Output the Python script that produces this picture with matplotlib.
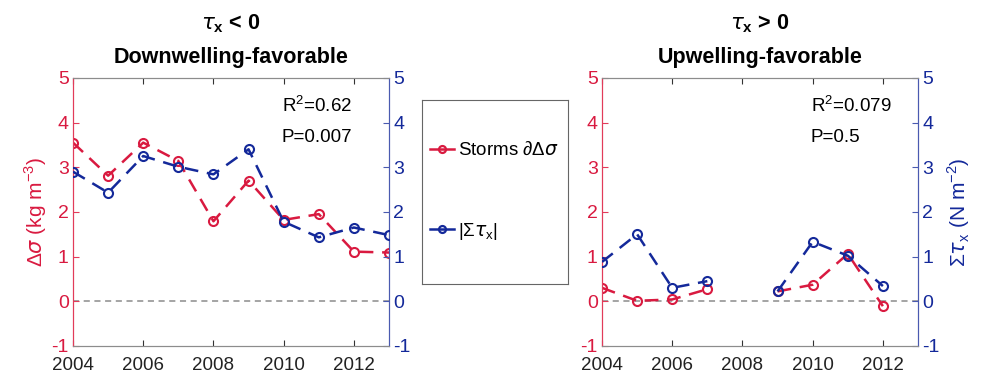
import numpy as np
import matplotlib
matplotlib.use("Agg")
import matplotlib.pyplot as plt
from matplotlib.lines import Line2D

plt.rcParams['font.family'] = ['Liberation Sans', 'DejaVu Sans']
plt.rcParams['mathtext.fontset'] = 'custom'
plt.rcParams['mathtext.rm'] = 'Liberation Sans'
plt.rcParams['mathtext.bf'] = 'Liberation Sans:bold'
plt.rcParams['axes.unicode_minus'] = False

# ---- data ----
years = [2004, 2005, 2006, 2007, 2008, 2009, 2010, 2011, 2012, 2013]

# downwelling-favorable (tau_x < 0)
down_dsigma = [3.55, 2.81, 3.55, 3.14, 1.79, 2.70, 1.82, 1.95, 1.11, 1.09]
down_tau = [2.90, 2.43, 3.25, 3.01, 2.84, 3.40, 1.78, 1.43, 1.65, 1.48]

# upwelling-favorable (tau_x > 0), no events in 2008 / 2013
up_dsigma = [0.30, 0.01, 0.04, 0.27, np.nan, 0.22, 0.37, 1.06, -0.11, np.nan]
up_tau = [0.88, 1.50, 0.30, 0.45, np.nan, 0.22, 1.33, 1.02, 0.34, np.nan]

stats_down = ["R$^2$=0.62", "P=0.007"]
stats_up = ["R$^2$=0.079", "P=0.5"]

RED = '#d91a40'
BLUE = '#14299a'
RED_AX = '#e23b5a'
BLUE_AX = '#4a5ab0'

fig = plt.figure(figsize=(10, 3.76), dpi=100)


def panel(rect, dsig, tau, title, stats, left_label, right_label):
    ax = fig.add_axes(rect)
    ax2 = ax.twinx()
    ax.axhline(0, color='#8c8c8c', ls='--', lw=1.1, dashes=(4, 3), zorder=1)
    ax.plot(years, dsig, color=RED, ls='--', dashes=(5.5, 3.5), lw=1.8,
            marker='o', ms=6.5, mfc='none', mew=1.5, zorder=3)
    ax2.plot(years, tau, color=BLUE, ls='--', dashes=(5.5, 3.5), lw=1.8,
             marker='o', ms=6.5, mfc='none', mew=1.5, zorder=3)
    for a in (ax, ax2):
        a.set_xlim(2004, 2013)
        a.set_ylim(-1, 5)
        a.set_yticks(range(-1, 6))
    ax.set_xticks([2004, 2006, 2008, 2010, 2012])
    ax.tick_params(axis='x', colors='#333333', labelcolor='#222222',
                   labelsize=13.5, direction='in', length=4, top=True, pad=8)
    ax.tick_params(axis='y', colors=RED_AX, labelcolor=RED, labelsize=14,
                   direction='in', length=4, pad=3)
    ax2.tick_params(axis='y', colors=BLUE_AX, labelcolor=BLUE, labelsize=14,
                    direction='in', length=4, pad=3)
    for s in ('top', 'bottom'):
        ax.spines[s].set_color('#8c8c8c')
        ax2.spines[s].set_color('#8c8c8c')
    ax.spines['left'].set_color(RED_AX)
    ax2.spines['left'].set_color(RED_AX)
    ax.spines['right'].set_color(BLUE_AX)
    ax2.spines['right'].set_color(BLUE_AX)
    ax.set_title(title, fontsize=15.5, fontweight='bold', linespacing=1.75,
                 pad=11)
    ax.text(0.66, 0.935, stats[0], transform=ax.transAxes, fontsize=13.5,
            va='top', ha='left')
    ax.text(0.66, 0.81, stats[1], transform=ax.transAxes, fontsize=13.5,
            va='top', ha='left')
    if left_label:
        ax.set_ylabel(left_label, color=RED, fontsize=15, labelpad=2)
    if right_label:
        ax2.set_ylabel(right_label, color=BLUE, fontsize=15, labelpad=4)
    return ax, ax2


panel([0.073, 0.08, 0.316, 0.713], down_dsigma, down_tau,
      r"$\tau_{\mathbf{x}}$ < 0" + "\nDownwelling-favorable", stats_down,
      r"$\Delta\sigma$ (kg m$^{-3}$)", None)
panel([0.602, 0.08, 0.316, 0.713], up_dsigma, up_tau,
      r"$\tau_{\mathbf{x}}$ > 0" + "\nUpwelling-favorable", stats_up,
      None, r"$\Sigma\tau_{\mathrm{x}}$ (N m$^{-2}$)")

# legend panel between the two axes
lax = fig.add_axes([0.422, 0.245, 0.146, 0.489])
lax.set_xticks([])
lax.set_yticks([])
for s in lax.spines.values():
    s.set_color('#666666')
handles = [
    Line2D([], [], color=RED, lw=1.8, marker='o', ms=5, mfc='none', mew=1.6),
    Line2D([], [], color=BLUE, lw=1.8, marker='o', ms=5, mfc='none', mew=1.6),
]
labels = [r"Storms $\partial\Delta\sigma$", r"$|\Sigma\tau_{\mathrm{x}}|$"]
lax.legend(handles, labels, loc='center left', frameon=False, fontsize=13.5,
           handlelength=1.3, handletextpad=0.2, labelspacing=3.3,
           borderaxespad=0.0, bbox_to_anchor=(0.0, 0.5))

fig.savefig("out.png", dpi=100)
